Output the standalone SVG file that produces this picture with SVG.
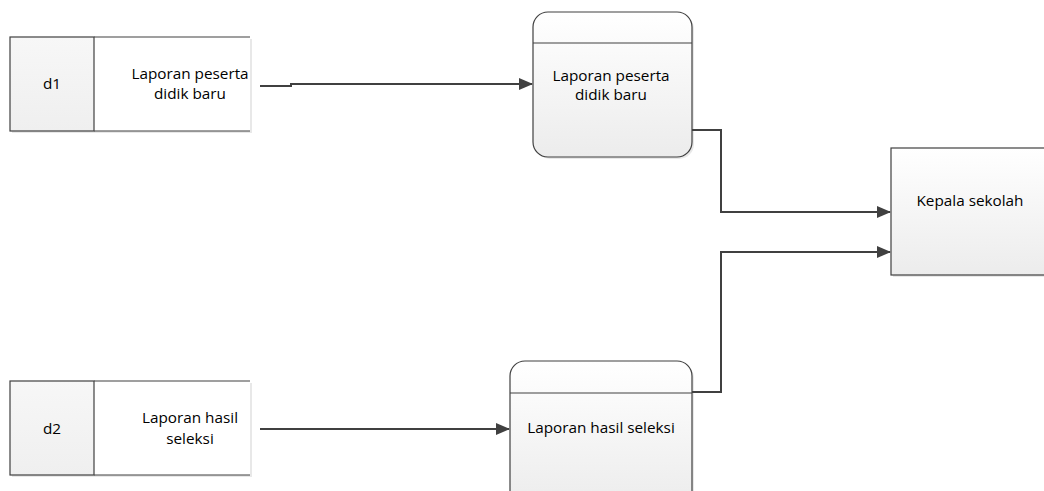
<svg xmlns="http://www.w3.org/2000/svg" width="1044" height="491" viewBox="0 0 1044 491">
<style>
text{font-family:"Open Sans","Liberation Sans",sans-serif;font-size:15.3px;fill:#000;text-anchor:middle}
.b{stroke:#404040;stroke-width:1.2}
.c{fill:none;stroke:#404040;stroke-width:2}
.sh{fill:#d8d8d8;opacity:0.6}
</style>
<defs>
<linearGradient id="g" x1="0" y1="0" x2="0" y2="1"><stop offset="0" stop-color="#ffffff"/><stop offset="1" stop-color="#ececec"/></linearGradient>
<linearGradient id="gl" x1="0" y1="0" x2="0" y2="1"><stop offset="0" stop-color="#f7f7f7"/><stop offset="1" stop-color="#efefef"/></linearGradient>
<marker id="a" markerWidth="14" markerHeight="12" refX="13" refY="6" orient="auto" markerUnits="userSpaceOnUse"><path d="M0,0 L14,6 L0,12 Z" fill="#404040"/></marker>
</defs>
<g id="d1">
<rect x="12" y="39" width="240" height="94" class="sh"/>
<rect x="10" y="37" width="240" height="94" fill="#fff"/>
<rect x="10" y="37" width="84" height="94" fill="url(#gl)" class="b"/>
<line x1="94" y1="37" x2="250" y2="37" class="b"/>
<line x1="94" y1="131" x2="250" y2="131" class="b"/>
<text x="52" y="89">d1</text>
<text x="190" y="79">Laporan peserta</text>
<text x="190" y="99">didik baru</text>
</g>
<g id="d2">
<rect x="12" y="383" width="240" height="94" class="sh"/>
<rect x="10" y="381" width="240" height="94" fill="#fff"/>
<rect x="10" y="381" width="84" height="94" fill="url(#gl)" class="b"/>
<line x1="94" y1="381" x2="250" y2="381" class="b"/>
<line x1="94" y1="475" x2="250" y2="475" class="b"/>
<text x="52" y="434">d2</text>
<text x="190" y="423">Laporan hasil</text>
<text x="190" y="444">seleksi</text>
</g>
<g id="p1">
<rect x="535" y="14" width="159" height="145" rx="15" class="sh"/>
<rect x="533" y="12" width="159" height="145" rx="15" fill="url(#g)" class="b"/>
<line x1="533" y1="43" x2="692" y2="43" class="b"/>
<text x="611" y="81">Laporan peserta</text>
<text x="611" y="100">didik baru</text>
</g>
<g id="p2">
<rect x="512" y="363" width="182" height="145" rx="15" class="sh"/>
<rect x="510" y="361" width="182" height="145" rx="15" fill="url(#g)" class="b"/>
<line x1="510" y1="393" x2="692" y2="393" class="b"/>
<text x="601" y="433">Laporan hasil seleksi</text>
</g>
<g id="kepala">
<rect x="893" y="150" width="160" height="127" class="sh"/>
<rect x="891" y="148" width="160" height="127" fill="url(#g)" class="b"/>
<text x="970" y="206">Kepala sekolah</text>
</g>
<g id="connectors">
<path d="M260,86 H291 V84 H532" class="c" marker-end="url(#a)"/>
<path d="M260,429 H509" class="c" marker-end="url(#a)"/>
<path d="M692,130 H721 V212 H890" class="c" marker-end="url(#a)"/>
<path d="M692,392 H721 V252 H890" class="c" marker-end="url(#a)"/>
</g>
</svg>
